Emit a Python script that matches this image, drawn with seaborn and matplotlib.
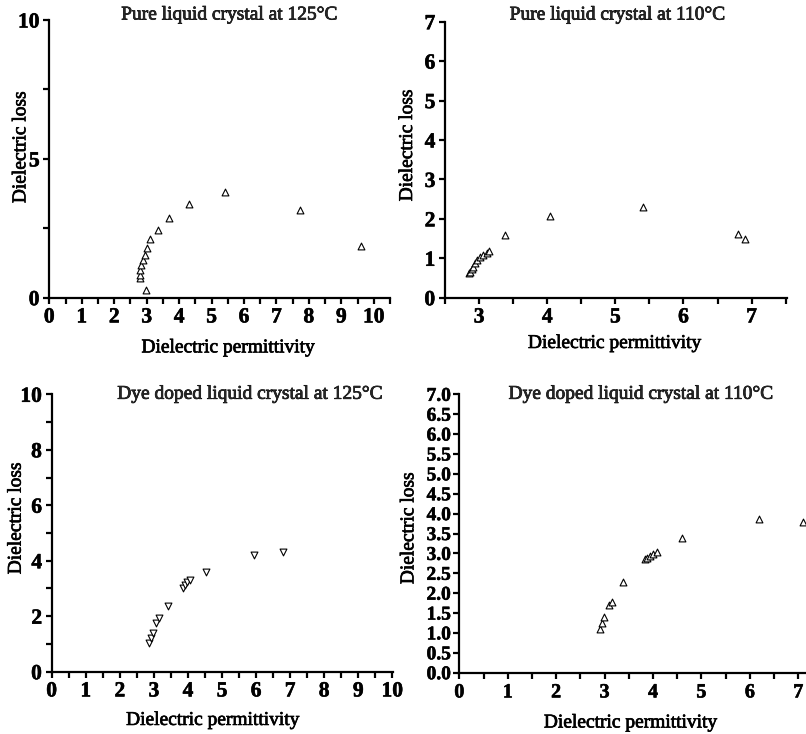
import matplotlib
matplotlib.use("Agg")
import matplotlib.pyplot as plt
import matplotlib.patheffects as pe
import seaborn as sns
from matplotlib.ticker import MultipleLocator, FormatStrFormatter

sns.set_theme(style="ticks")
plt.rcParams['font.family'] = ['Liberation Serif', 'DejaVu Serif']

# ---------------- data ----------------
titles = ["Pure liquid crystal at 125°C", "Pure liquid crystal at 110°C",
          "Dye doped liquid crystal at 125°C", "Dye doped liquid crystal at 110°C"]

pure125_perm = [2.98, 2.79, 2.79, 2.81, 2.84, 2.89, 2.94, 3.00, 3.10, 3.35, 3.70, 4.32, 5.42, 7.72, 9.62]
pure125_loss = [0.28, 0.70, 0.82, 1.00, 1.18, 1.36, 1.54, 1.78, 2.10, 2.42, 2.86, 3.37, 3.79, 3.16, 1.87]

pure110_perm = [2.85, 2.86, 2.89, 2.91, 2.94, 2.97, 3.02, 3.06, 3.11, 3.15, 3.38, 4.04, 5.40, 6.80, 6.91]
pure110_loss = [0.62, 0.66, 0.72, 0.79, 0.87, 0.96, 1.04, 1.08, 1.14, 1.19, 1.59, 2.07, 2.29, 1.61, 1.49]

dye125_perm = [2.86, 2.91, 2.97, 3.07, 3.14, 3.41, 3.85, 3.92, 3.98, 4.05, 4.52, 5.95, 6.78]
dye125_loss = [1.05, 1.20, 1.38, 1.77, 1.93, 2.38, 3.01, 3.13, 3.22, 3.31, 3.59, 4.21, 4.30]

dye110_perm = [2.91, 2.94, 2.99, 3.10, 3.15, 3.39, 3.84, 3.87, 3.94, 4.01, 4.08, 4.59, 6.19, 7.10]
dye110_loss = [1.09, 1.24, 1.41, 1.70, 1.79, 2.29, 2.86, 2.89, 2.94, 2.99, 3.04, 3.39, 3.86, 3.78]

W, H = 806, 734
fig = plt.figure(figsize=(W / 100, H / 100), dpi=100)

thick = [pe.withStroke(linewidth=0.5, foreground='black')]
thick_tick = [pe.withStroke(linewidth=0.4, foreground='black')]


def axes_px(left, top, right, bottom):
    return fig.add_axes([left / W, 1 - bottom / H, (right - left) / W, (bottom - top) / H])


ax1 = axes_px(49.3, 20.0, 390, 297.7)
ax2 = axes_px(445, 21.7, 787, 297.7)
ax3 = axes_px(51.7, 394.3, 393, 671.7)
ax4 = axes_px(459.3, 394.3, 806, 672.7)

panels = [
    (ax1, pure125_perm, pure125_loss, '^'),
    (ax2, pure110_perm, pure110_loss, '^'),
    (ax3, dye125_perm, dye125_loss, 'v'),
    (ax4, dye110_perm, dye110_loss, '^'),
]

for ax, xs, ys, m in panels:
    sns.scatterplot(x=xs, y=ys, ax=ax, marker=m, s=24, facecolor='white',
                    edgecolor='black', linewidth=0.8, zorder=3)
    ax.set_facecolor('white')
    for side in ['top', 'right']:
        ax.spines[side].set_visible(False)
    for side in ['left', 'bottom']:
        ax.spines[side].set_linewidth(1.6)
        ax.spines[side].set_color('black')
    ax.tick_params(which='both', direction='out', length=4, width=1.6, color='black',
                   labelsize=15.5, pad=3, labelcolor='black')
    ax.set_xlabel("Dielectric permittivity", fontsize=14, color='black', path_effects=thick)
    ax.set_ylabel("Dielectric loss", fontsize=14, color='black', path_effects=thick)

# panel 1
ax1.set_xlim(0, 10.5)
ax1.set_ylim(0, 10)
ax1.xaxis.set_major_locator(MultipleLocator(1))
ax1.xaxis.set_minor_locator(MultipleLocator(0.5))
ax1.yaxis.set_major_locator(MultipleLocator(5))
ax1.yaxis.set_minor_locator(MultipleLocator(2.5))

# panel 2
ax2.set_xlim(2.5, 7.52)
ax2.set_ylim(0, 7)
ax2.xaxis.set_major_locator(MultipleLocator(1))
ax2.xaxis.set_minor_locator(MultipleLocator(0.5))
ax2.yaxis.set_major_locator(MultipleLocator(1))

# panel 3
ax3.set_xlim(0, 10.02)
ax3.set_ylim(0, 10)
ax3.xaxis.set_major_locator(MultipleLocator(1))
ax3.xaxis.set_minor_locator(MultipleLocator(0.5))
ax3.yaxis.set_major_locator(MultipleLocator(2))
ax3.yaxis.set_minor_locator(MultipleLocator(1))

# panel 4
ax4.set_xlim(0, 7.16)
ax4.set_ylim(0, 7)
ax4.xaxis.set_major_locator(MultipleLocator(1))
ax4.xaxis.set_minor_locator(MultipleLocator(0.5))
ax4.yaxis.set_major_locator(MultipleLocator(0.5))
ax4.yaxis.set_major_formatter(FormatStrFormatter('%.1f'))
ax4.tick_params(axis='y', labelsize=14, pad=2)
ax4.tick_params(axis='x', labelsize=14.5)

for ax in (ax1, ax2, ax3, ax4):
    for lab in ax.get_xticklabels() + ax.get_yticklabels():
        lab.set_fontweight('bold')
        lab.set_path_effects(thick_tick)

# titles
ax1.text(0.53, 1.018, titles[0], transform=ax1.transAxes, ha='center', va='center',
         fontsize=14, path_effects=thick)
ax2.text(0.506, 1.024, titles[1], transform=ax2.transAxes, ha='center', va='center',
         fontsize=14, path_effects=thick)
ax3.text(0.583, 1.0, titles[2], transform=ax3.transAxes, ha='center', va='center',
         fontsize=14, path_effects=thick)
ax4.text(0.526, 1.0, titles[3], transform=ax4.transAxes, ha='center', va='center',
         fontsize=14, path_effects=thick)

# label positions (axes fraction)
ax1.xaxis.set_label_coords(0.526, -0.15)
ax1.yaxis.set_label_coords(-20 / 341, 0.543)
ax2.xaxis.set_label_coords(0.497, -0.135)
ax2.yaxis.set_label_coords(-29 / 342, 0.553)
ax3.xaxis.set_label_coords(0.473, -0.145)
ax3.yaxis.set_label_coords(-27 / 341, 0.554)
ax4.xaxis.set_label_coords(0.495, -0.15)
ax4.yaxis.set_label_coords(-42 / 347, 0.52)

fig.savefig("out.png", dpi=100, facecolor='white')
